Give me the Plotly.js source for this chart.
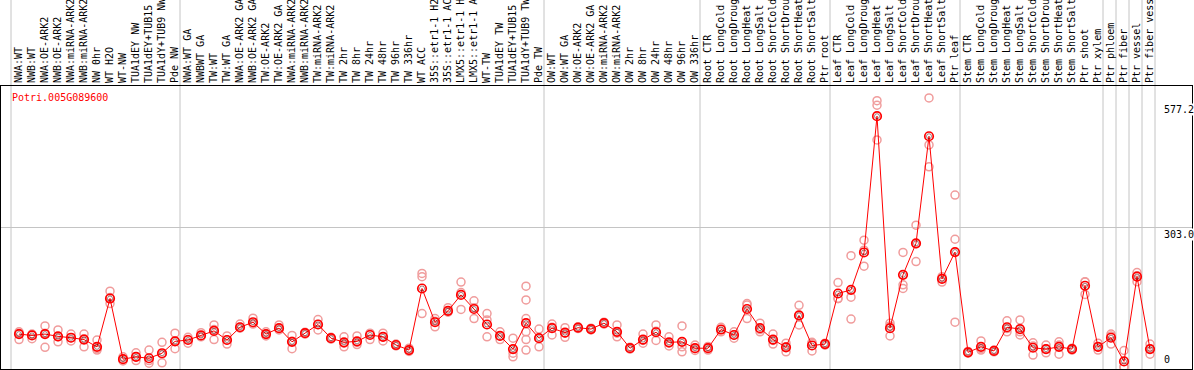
<!DOCTYPE html>
<html>
<head>
<meta charset="utf-8">
<script src="https://cdn.plot.ly/plotly-3.0.1.min.js"></script>
<style>
  html, body { margin: 0; padding: 0; background: #fff; }
  #chart { width: 1194px; height: 370px; }
</style>
</head>
<body>
<div id="chart"></div>
<script>
// ---------- DATA ----------
var geneId = "Potri.005G089600";

var categories = [
  "NWA:WT", "NWB:WT", "NWA:OE-ARK2", "NWB:OE-ARK2", "NWA:miRNA-ARK2", "NWB:miRNA-ARK2",
  "NW 0hr", "WT H2O", "WT-NW", "TUA1dEY NW", "TUA1dEY+TUB15 NW", "TUA1dY+TUB9 NW", "Pde NW",
  "NWA:WT GA", "NWBWT GA", "TW:WT", "TW:WT GA", "NWA:OE-ARK2 GA", "NWB:OE-ARK2 GA",
  "TW:OE-ARK2", "TW:OE-ARK2 GA", "NWA:miRNA-ARK2 GA", "NWB:miRNA-ARK2 GA", "TW:miRNA-ARK2",
  "TW:miRNA-ARK2 GA", "TW 2hr", "TW 8hr", "TW 24hr", "TW 48hr", "TW 96hr", "TW 336hr",
  "WT ACC", "35S::etr1-1 H2O", "35S::etr1-1 ACC", "LMX5::etr1-1 H2O", "LMX5::etr1-1 ACC",
  "WT-TW", "TUA1dEY TW", "TUA1dEY+TUB15 TW", "TUA1dY+TUB9 TW", "Pde TW",
  "OW:WT", "OW:WT GA", "OW:OE-ARK2", "OW:OE-ARK2 GA", "OW:miRNA-ARK2", "OW:miRNA-ARK2 GA",
  "OW 2hr", "OW 8hr", "OW 24hr", "OW 48hr", "OW 96hr", "OW 336hr",
  "Root CTR", "Root LongCold", "Root LongDrought", "Root LongHeat", "Root LongSalt",
  "Root ShortCold", "Root ShortDrought", "Root ShortHeat", "Root ShortSalt", "Ptr root",
  "Leaf CTR", "Leaf LongCold", "Leaf LongDrought", "Leaf LongHeat", "Leaf LongSalt",
  "Leaf ShortCold", "Leaf ShortDrought", "Leaf ShortHeat", "Leaf ShortSalt", "Ptr leaf",
  "Stem CTR", "Stem LongCold", "Stem LongDrought", "Stem LongHeat", "Stem LongSalt",
  "Stem ShortCold", "Stem ShortDrought", "Stem ShortHeat", "Stem ShortSalt", "Ptr shoot",
  "Ptr xylem", "Ptr phloem", "Ptr fiber", "Ptr vessel", "Ptr fiber vessel"
];

// mean expression (red line)
var meanValues = [
  70, 67, 70, 65, 62, 58, 42, 148, 15, 20, 17, 28, 54,
  57, 67, 77, 57, 85, 96, 70, 83, 53, 72, 91, 61, 52, 54, 68, 64, 46, 35,
  170, 96, 121, 156, 125, 91, 66, 37, 94, 61,
  83, 73, 84, 81, 94, 75, 39, 58, 74, 52, 53, 39,
  39, 80, 68, 125, 83, 58, 41, 111, 45, 48,
  159, 167, 249, 548, 83, 200, 269, 504, 191, 250,
  30, 42, 33, 85, 81, 40, 37, 42, 37, 176,
  42, 62, 10, 196, 37
];

// individual replicates (pink circles)
var repA = [
  75, 70, 88, 79, 70, 70, 57, 164, 20, 29, 35, 52, 72,
  63, 73, 90, 66, 92, 105, 75, 90, 67, 74, 102, 63, 64, 66, 72, 72, 48, 39,
  203, 104, 128, 184, 143, 115, 75, 61, 175, 81,
  92, 84, 86, 83, 96, 90, 41, 70, 90, 64, 88, 46,
  43, 75, 61, 137, 94, 70, 50, 133, 52, 50,
  183, 242, 276, 582, 94, 249, 309, 588, 196, 375,
  32, 55, 35, 99, 101, 51, 46, 53, 39, 185,
  50, 70, 34, 205, 48
];
var repB = [
  58, 60, 41, 53, 55, 42, 35, 137, 11, 12, 6, 7, 38,
  50, 64, 58, 48, 83, 94, 66, 79, 38, 70, 79, 59, 42, 47, 58, 55, 44, 32,
  196, 86, 118, 161, 104, 101, 58, 28, 145, 42,
  68, 63, 82, 79, 92, 64, 37, 50, 56, 44, 31, 34,
  35, 85, 75, 104, 75, 48, 31, 90, 33, 46,
  148, 151, 254, 572, 66, 178, 229, 485, 184, 278,
  28, 35, 31, 75, 68, 24, 29, 26, 35, 157,
  35, 48, -2, 185, 26
];
var repC = [
  72, 68, 72, 64, 62, 60, 38, 150, 15, 20, 12, 26, 54,
  58, 66, 80, 57, 85, 92, 70, 82, 54, 72, 91, 61, 50, 52, 70, 64, 46, 35,
  115, 98, 121, 124, 128, 64, 66, 20, 35, 61,
  85, 72, 84, 81, 94, 72, 39, 56, 76, 50, 42, 38,
  39, 80, 68, 134, 80, 56, 42, 110, 50, 48,
  148, 103, 219, 496, 88, 170, 268, 437, 192, 96,
  30, 38, 33, 82, 75, 44, 37, 46, 37, 184,
  42, 66, -2, 198, 37
];
// extra replicates for samples with more than three
var extraIdx = [39, 39, 39];
var extraVal = [104, 75, 58];

// y reference labels and group boundaries (first sample index of each block)
var yLabelVals = [577.2, 303.0, 0];
var yLabelText = ["577.2", "303.0", "0"];
var groupStarts = [0, 13, 41, 53, 63, 73, 84, 85, 86, 87, 88];

// ---------- BUILD ----------
var idx = categories.map(function (_, i) { return i; });

var repX = [], repY = [];
[repA, repB, repC].forEach(function (arr) {
  arr.forEach(function (v, i) { if (v !== null) { repX.push(i); repY.push(v); } });
});
extraIdx.forEach(function (i, k) { repX.push(i); repY.push(extraVal[k]); });

var mono = "DejaVu Sans Mono, monospace";

var traces = [
  {
    x: repX, y: repY, type: "scatter", mode: "markers", hoverinfo: "skip",
    marker: { symbol: "circle-open", size: 8, color: "#f09c9c", line: { width: 1.5, color: "#f09c9c" } }
  },
  {
    x: idx, y: meanValues, type: "scatter", mode: "lines+markers",
    line: { color: "#ff0000", width: 1 },
    marker: { symbol: "circle-open", size: 8.5, color: "#ff0000", line: { width: 1.7, color: "#ff0000" } }
  },
  {
    x: idx, y: meanValues, type: "scatter", mode: "markers", hoverinfo: "skip",
    marker: { symbol: "circle-open", size: 5, color: "rgba(60,0,0,0.6)", line: { width: 0.8, color: "rgba(60,0,0,0.6)" } }
  }
];

var shapes = groupStarts.map(function (g) {
  return {
    type: "line", xref: "x", yref: "paper", x0: g - 0.615, x1: g - 0.615, y0: 0, y1: 1.31,
    line: { color: "#c4c4c4", width: 1 }, layer: "below"
  };
});

var annotations = yLabelVals.map(function (v, k) {
  return {
    xref: "x", yref: "y", x: 88, y: v, xanchor: "left", yanchor: v === 0 ? "bottom" : "top",
    text: yLabelText[k], showarrow: false, bgcolor: "#ffffff", borderpad: 0,
    font: { family: mono, size: 10, color: "#000" }
  };
});
annotations.push({
  xref: "paper", yref: "paper", x: 0.0075, y: 0.96, xanchor: "left", yanchor: "middle",
  text: geneId, showarrow: false, font: { family: mono, size: 10, color: "#ff0000" }
});

var layout = {
  width: 1194, height: 370,
  margin: { l: 1, r: 2, t: 86, b: 1, pad: 0 },
  paper_bgcolor: "#ffffff", plot_bgcolor: "#ffffff",
  showlegend: false,
  font: { family: mono, size: 10, color: "#000" },
  xaxis: {
    side: "top", range: [-1.385, 90.23], tickmode: "array", tickvals: idx, ticktext: categories,
    tickangle: -90, ticks: "", showgrid: false, zeroline: false, automargin: false,
    showline: true, mirror: true, linecolor: "#000", linewidth: 1,
    tickfont: { family: mono, size: 10, color: "#000" }
  },
  yaxis: {
    range: [-6.6, 614.2], tickmode: "array", tickvals: [303], showticklabels: false, ticks: "",
    showgrid: true, gridcolor: "#c4c4c4", gridwidth: 1, zeroline: false, automargin: false,
    showline: true, mirror: true, linecolor: "#000", linewidth: 1
  },
  shapes: shapes,
  annotations: annotations
};

Plotly.newPlot("chart", traces, layout, { displayModeBar: false, staticPlot: true });
</script>
</body>
</html>
